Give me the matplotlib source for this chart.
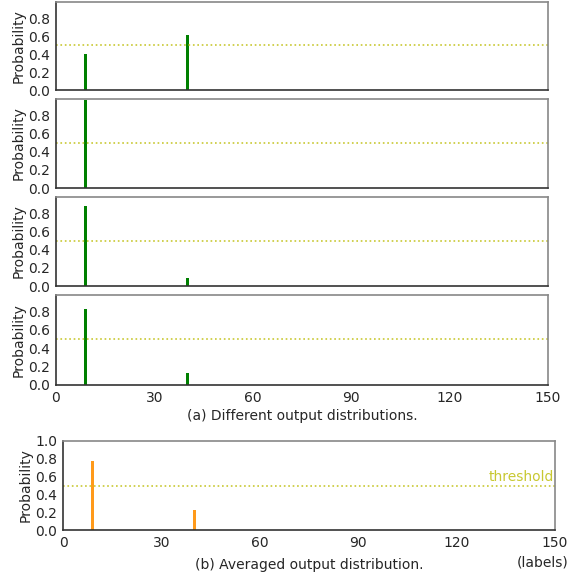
import numpy as np
import matplotlib
matplotlib.use("Agg")
import matplotlib.pyplot as plt

# label indices and per-output probabilities
labels = [9, 40]
outputs = [
    [0.40, 0.61],
    [0.97, 0.00],
    [0.88, 0.09],
    [0.83, 0.13],
]
averaged = [0.77, 0.22]
threshold = 0.5
xticks = [0, 30, 60, 90, 120, 150]

TEXT = "#262626"
THR_COLOR = "#c8c832"

plt.rcParams["font.family"] = "DejaVu Sans"
plt.rcParams["font.size"] = 10

fig = plt.figure(figsize=(5.76, 5.76), dpi=100)
W = 576.0


def style(ax):
    for s in ("top", "right"):
        ax.spines[s].set_color("#888888")
    for s in ("bottom", "left"):
        ax.spines[s].set_color("#333333")
    for s in ax.spines.values():
        s.set_linewidth(1.2)
    ax.tick_params(length=0, pad=4, labelcolor=TEXT, labelsize=10)
    ax.set_xlim(0, 150)
    ax.set_xticks(xticks)


tops = [(2, 90), (99, 188), (197, 286), (295, 385)]
for i, (vals, (t, b)) in enumerate(zip(outputs, tops)):
    ax = fig.add_axes([56 / W, 1 - b / W, 492 / W, (b - t) / W])
    style(ax)
    ax.bar(labels, vals, width=0.8, color="green")
    ax.axhline(threshold, color=THR_COLOR, ls=":", lw=1.2)
    ax.set_ylim(0, 0.98)
    ax.set_yticks([0, 0.2, 0.4, 0.6, 0.8])
    ax.set_ylabel("Probability", color=TEXT, labelpad=2)
    if i < 3:
        ax.set_xticklabels([])
    else:
        ax.set_xlabel("(a) Different output distributions.", color=TEXT, labelpad=3)

ax = fig.add_axes([63 / W, 1 - 530 / W, 492 / W, 89 / W])
style(ax)
ax.bar(labels, averaged, width=0.8, color="#ff9a1a")
ax.axhline(threshold, color=THR_COLOR, ls=":", lw=1.2)
ax.text(149.6, threshold + 0.015, "threshold", color=THR_COLOR, ha="right", va="bottom")
ax.set_ylim(0, 1.0)
ax.set_yticks([0, 0.2, 0.4, 0.6, 0.8, 1.0])
ax.set_ylabel("Probability", color=TEXT, labelpad=2)
ax.set_xlabel("(b) Averaged output distribution.", color=TEXT, labelpad=6)
ax.text(1.027, -0.36, "(labels)", transform=ax.transAxes, ha="right", va="center", color=TEXT)

fig.savefig("out.png", dpi=100)
